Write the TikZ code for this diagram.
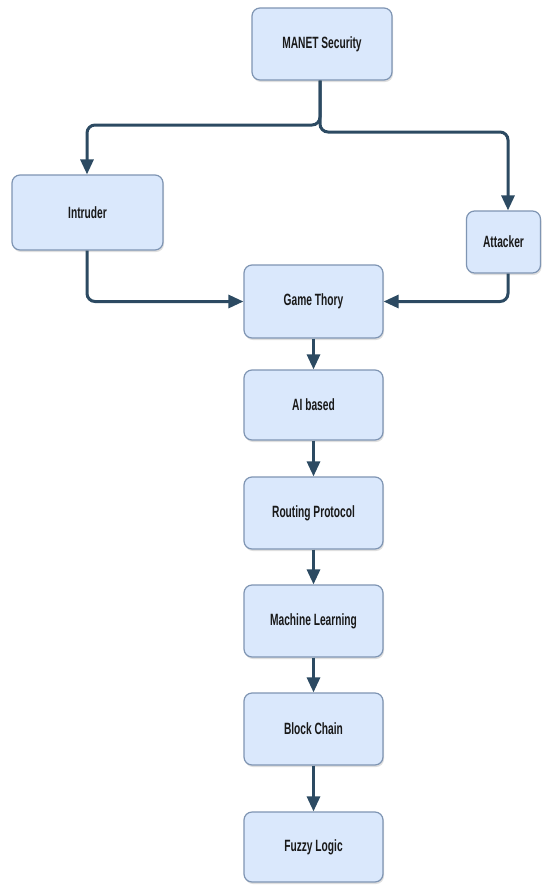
\documentclass[tikz,border=0pt]{standalone}
\usepackage{fontspec}
\usepackage{graphicx}
\setmainfont{Liberation Sans}
\usetikzlibrary{arrows.meta,shadows}
\definecolor{boxfill}{HTML}{DAE8FC}
\definecolor{boxline}{HTML}{7F95B3}
\definecolor{arrowcol}{HTML}{2C4A62}
\newcommand{\lbl}[1]{\scalebox{1}[1.6]{\fontsize{10.2}{12}\selectfont\bfseries #1}}
\tikzset{
  box/.style={draw=boxline, line width=1.2pt, fill=boxfill, rounded corners=8pt,
    drop shadow={opacity=0.25, shadow xshift=1pt, shadow yshift=-2pt},
    inner sep=0pt, text=black!90},
  conn/.style={draw=arrowcol, line width=3pt, rounded corners=8pt,
    -{Triangle[length=15pt,width=13pt]}},
}
\begin{document}
\begin{tikzpicture}[x=1pt,y=-1pt]
\useasboundingbox[fill=white] (0,0) rectangle (542,887);
\node[box, minimum width=140pt, minimum height=72pt] (ms) at (322,44) {\lbl{MANET Security}};
\node[box, minimum width=151pt, minimum height=75pt] (intr) at (87.5,212.5) {\lbl{Intruder}};
\node[box, minimum width=74pt, minimum height=62pt] (att) at (503.5,242) {\lbl{Attacker}};
\node[box, minimum width=139pt, minimum height=73pt] (gt) at (313.5,301.5) {\lbl{Game Thory}};
\node[box, minimum width=139pt, minimum height=70pt] (ai) at (313.5,405) {\lbl{AI based}};
\node[box, minimum width=139pt, minimum height=72pt] (rp) at (313.5,513) {\lbl{Routing Protocol}};
\node[box, minimum width=139pt, minimum height=72pt] (ml) at (313.5,621) {\lbl{Machine Learning}};
\node[box, minimum width=139pt, minimum height=72pt] (bc) at (313.5,729) {\lbl{Block Chain}};
\node[box, minimum width=139pt, minimum height=70pt] (fl) at (313.5,847) {\lbl{Fuzzy Logic}};
\coordinate (lsplit) at (320,125);
\coordinate (rsplit) at (320,132);
\path[conn] (ms.south -| lsplit) -- (lsplit) -| (intr.north -| 87,0);
\path[conn] (ms.south -| rsplit) -- (rsplit) -| (att.north -| 508,0);
\path[conn] (intr.south -| 87,0) |- (gt.west);
\path[conn] (att.south -| 508,0) |- (gt.east);
\path[conn] (gt) -- (ai);
\path[conn] (ai) -- (rp);
\path[conn] (rp) -- (ml);
\path[conn] (ml) -- (bc);
\path[conn] (bc) -- (fl);
\end{tikzpicture}
\end{document}
